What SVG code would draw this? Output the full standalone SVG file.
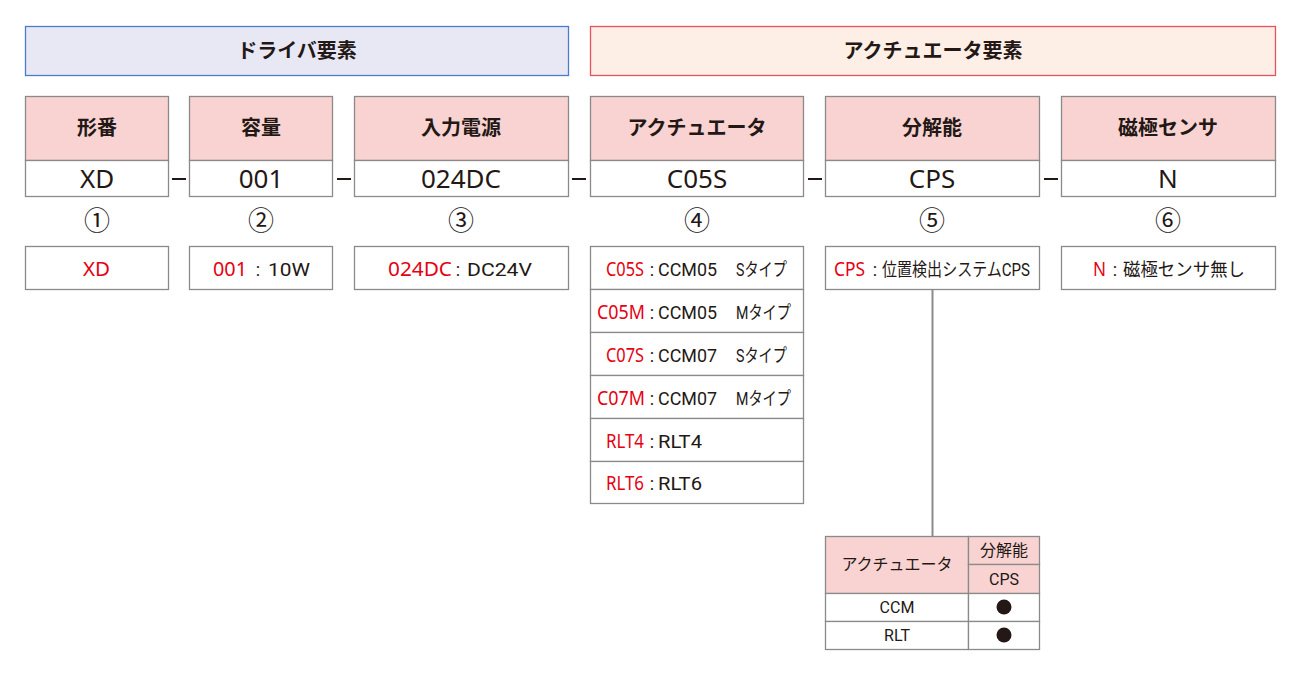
<svg xmlns="http://www.w3.org/2000/svg" width="1301" height="676" viewBox="0 0 1301 676">
<style>
.box{fill:#fff;stroke:#8a8a8a;stroke-width:1.3}
.hd{fill:#f8d3d1;stroke:#8a8a8a;stroke-width:1.3}
.jb{font-family:"Noto Sans CJK JP","Noto Sans",sans-serif;font-weight:bold;font-size:20px;fill:#231815;text-anchor:middle}
.val{font-family:"Noto Sans","Noto Sans CJK JP",sans-serif;font-size:26px;fill:#231815;text-anchor:middle}
.num{font-family:"Noto Sans CJK JP",sans-serif;font-size:26px;fill:#231815;text-anchor:middle}
.d{font-family:"Roboto","Noto Sans CJK JP",sans-serif;font-size:18px;fill:#231815}
.r{fill:#e60012;font-family:"Noto Sans","Noto Sans CJK JP",sans-serif;font-size:19px}
.t{font-family:"Roboto","Noto Sans CJK JP",sans-serif;font-size:16px;fill:#231815;text-anchor:middle}
.dash{stroke:#231815;stroke-width:2}
</style>
<rect width="1301" height="676" fill="#fff"/>
<g id="driver-header">
<rect x="25.5" y="26.5" width="543" height="49" fill="#e8e8f5" stroke="#4a7cc9" stroke-width="1.3"/>
<text class="jb" x="297" y="58">ドライバ要素</text>
</g>
<g id="actuator-header">
<rect x="590.5" y="26.5" width="685" height="49" fill="#fdeee6" stroke="#e8525c" stroke-width="1.3"/>
<text class="jb" x="933" y="58">アクチュエータ要素</text>
</g>
<g id="col1">
<rect class="hd" x="25.5" y="96.5" width="143" height="64"/>
<rect class="box" x="25.5" y="160.5" width="143" height="36"/>
<text class="jb" x="97" y="135">形番</text>
<text class="val" x="97" y="188">XD</text>
<text class="num" x="97" y="230">①</text>
<rect class="box" x="25.5" y="246.5" width="143" height="43"/>
<text class="r" x="83" y="276" textLength="27" lengthAdjust="spacingAndGlyphs">XD</text>
</g>
<g id="col2">
<rect class="hd" x="189.5" y="96.5" width="143" height="64"/>
<rect class="box" x="189.5" y="160.5" width="143" height="36"/>
<text class="jb" x="261" y="135">容量</text>
<text class="val" x="261" y="188">001</text>
<text class="num" x="261" y="230">②</text>
<rect class="box" x="189.5" y="246.5" width="143" height="43"/>
<text class="r" x="213" y="276" textLength="34" lengthAdjust="spacingAndGlyphs">001</text>
<text class="d" x="258" y="276" text-anchor="middle">:</text>
<text class="d" x="268" y="276" textLength="42" lengthAdjust="spacingAndGlyphs">10W</text>
</g>
<g id="col3">
<rect class="hd" x="354.5" y="96.5" width="214" height="64"/>
<rect class="box" x="354.5" y="160.5" width="214" height="36"/>
<text class="jb" x="461" y="135">入力電源</text>
<text class="val" x="461" y="188">024DC</text>
<text class="num" x="461" y="230">③</text>
<rect class="box" x="354.5" y="246.5" width="214" height="43"/>
<text class="r" x="388" y="276" textLength="64" lengthAdjust="spacingAndGlyphs">024DC</text>
<text class="d" x="458" y="276" text-anchor="middle">:</text>
<text class="d" x="467" y="276" textLength="65" lengthAdjust="spacingAndGlyphs">DC24V</text>
</g>
<g id="col4">
<rect class="hd" x="590.5" y="96.5" width="213" height="64"/>
<rect class="box" x="590.5" y="160.5" width="213" height="36"/>
<text class="jb" x="697" y="135">アクチュエータ</text>
<text class="val" x="697" y="188">C05S</text>
<text class="num" x="697" y="230">④</text>
<rect class="box" x="590.5" y="246.5" width="213" height="43"/>
<rect class="box" x="590.5" y="289.5" width="213" height="43"/>
<rect class="box" x="590.5" y="332.5" width="213" height="43"/>
<rect class="box" x="590.5" y="375.5" width="213" height="43"/>
<rect class="box" x="590.5" y="418.5" width="213" height="43"/>
<rect class="box" x="590.5" y="461.5" width="213" height="42"/>
<text class="r" x="606" y="276" textLength="38" lengthAdjust="spacingAndGlyphs">C05S</text>
<text class="d" x="652" y="276" text-anchor="middle">:</text>
<text class="d" x="658" y="276" textLength="59" lengthAdjust="spacingAndGlyphs">CCM05</text>
<text class="d" x="736" y="276" textLength="51" lengthAdjust="spacingAndGlyphs">Sタイプ</text>
<text class="r" x="597" y="319" textLength="48" lengthAdjust="spacingAndGlyphs">C05M</text>
<text class="d" x="652" y="319" text-anchor="middle">:</text>
<text class="d" x="658" y="319" textLength="59" lengthAdjust="spacingAndGlyphs">CCM05</text>
<text class="d" x="736" y="319" textLength="55" lengthAdjust="spacingAndGlyphs">Mタイプ</text>
<text class="r" x="606" y="362" textLength="38" lengthAdjust="spacingAndGlyphs">C07S</text>
<text class="d" x="652" y="362" text-anchor="middle">:</text>
<text class="d" x="658" y="362" textLength="59" lengthAdjust="spacingAndGlyphs">CCM07</text>
<text class="d" x="736" y="362" textLength="51" lengthAdjust="spacingAndGlyphs">Sタイプ</text>
<text class="r" x="597" y="405" textLength="48" lengthAdjust="spacingAndGlyphs">C07M</text>
<text class="d" x="652" y="405" text-anchor="middle">:</text>
<text class="d" x="658" y="405" textLength="59" lengthAdjust="spacingAndGlyphs">CCM07</text>
<text class="d" x="736" y="405" textLength="55" lengthAdjust="spacingAndGlyphs">Mタイプ</text>
<text class="r" x="606" y="448" textLength="38" lengthAdjust="spacingAndGlyphs">RLT4</text>
<text class="d" x="652" y="448" text-anchor="middle">:</text>
<text class="d" x="658" y="448" textLength="44" lengthAdjust="spacingAndGlyphs">RLT4</text>
<text class="r" x="606" y="490" textLength="38" lengthAdjust="spacingAndGlyphs">RLT6</text>
<text class="d" x="652" y="490" text-anchor="middle">:</text>
<text class="d" x="658" y="490" textLength="44" lengthAdjust="spacingAndGlyphs">RLT6</text>
</g>
<g id="col5">
<rect class="hd" x="825.5" y="96.5" width="214" height="64"/>
<rect class="box" x="825.5" y="160.5" width="214" height="36"/>
<text class="jb" x="932" y="135">分解能</text>
<text class="val" x="932" y="188">CPS</text>
<text class="num" x="932" y="230">⑤</text>
<rect class="box" x="825.5" y="246.5" width="214" height="43"/>
<text class="r" x="834" y="276" textLength="31" lengthAdjust="spacingAndGlyphs">CPS</text>
<text class="d" x="875" y="276" text-anchor="middle">:</text>
<text class="d" x="882" y="276" textLength="148" lengthAdjust="spacingAndGlyphs">位置検出システムCPS</text>
</g>
<g id="col6">
<rect class="hd" x="1061.5" y="96.5" width="214" height="64"/>
<rect class="box" x="1061.5" y="160.5" width="214" height="36"/>
<text class="jb" x="1168" y="135">磁極センサ</text>
<text class="val" x="1168" y="188">N</text>
<text class="num" x="1168" y="230">⑥</text>
<rect class="box" x="1061.5" y="246.5" width="214" height="43"/>
<text class="r" x="1093" y="276" textLength="13" lengthAdjust="spacingAndGlyphs">N</text>
<text class="d" x="1115" y="276" text-anchor="middle">:</text>
<text class="d" x="1123" y="276" textLength="122" lengthAdjust="spacingAndGlyphs">磁極センサ無し</text>
</g>
<g id="cps-table">
<rect class="hd" x="825.5" y="536.5" width="143" height="57"/>
<rect class="hd" x="968.5" y="536.5" width="71" height="28"/>
<rect class="hd" x="968.5" y="564.5" width="71" height="29"/>
<rect class="box" x="825.5" y="593.5" width="143" height="28"/>
<rect class="box" x="968.5" y="593.5" width="71" height="28"/>
<rect class="box" x="825.5" y="621.5" width="143" height="28"/>
<rect class="box" x="968.5" y="621.5" width="71" height="28"/>
<text class="t" x="897" y="570">アクチュエータ</text>
<text class="t" x="1004" y="556">分解能</text>
<text class="t" x="1004" y="585">CPS</text>
<text class="t" x="897" y="613">CCM</text>
<text class="t" x="897" y="641">RLT</text>
<circle cx="1004" cy="607" r="7.5" fill="#231815"/>
<circle cx="1004" cy="635" r="7.5" fill="#231815"/>
</g>
<g id="connectors">
<line class="dash" x1="172" y1="179" x2="186" y2="179"/>
<line class="dash" x1="337" y1="179" x2="351" y2="179"/>
<line class="dash" x1="572" y1="179" x2="586" y2="179"/>
<line class="dash" x1="808" y1="179" x2="822" y2="179"/>
<line class="dash" x1="1044" y1="179" x2="1058" y2="179"/>
<line x1="932.5" y1="289.5" x2="932.5" y2="536.5" stroke="#8a8a8a" stroke-width="2"/>
</g>
</svg>
